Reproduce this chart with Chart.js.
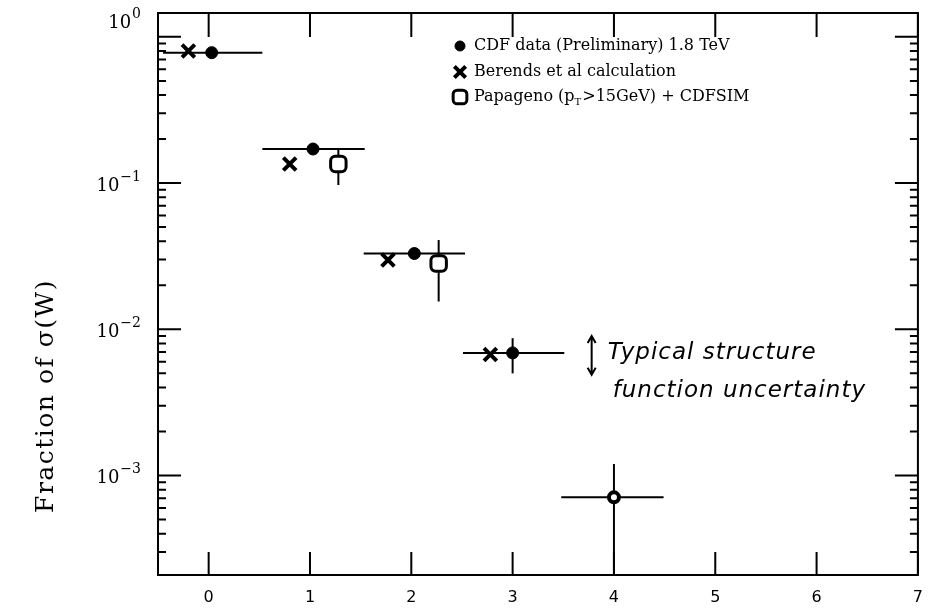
<!DOCTYPE html>
<html>
<head>
<title>W + n jets fraction</title>
<script src="https://cdn.jsdelivr.net/npm/chart.js@4.4.0/dist/chart.umd.min.js"></script>
<style>
  body { margin: 0; background: #fff; }
</style>
</head>
<body>
<canvas id="myChart" width="936" height="608"></canvas>
<script>
// jet multiplicity bins (horizontal bars)
var binLo = [-0.45, 0.53, 1.53, 2.51, 3.48];
var binHi = [0.53, 1.54, 2.53, 3.51, 4.49];

// CDF data (Preliminary) 1.8 TeV
var cdfX = [0.03, 1.03, 2.03, 3.0, 4.0];
var cdfY = [0.78, 0.171, 0.033, 0.0069, 0.00071];
var cdfErrLo = [null, null, null, 0.0050, 0.0001];
var cdfErrHi = [null, null, null, 0.0087, 0.0012];

// Berends et al calculation
var berX = [-0.2, 0.8, 1.77, 2.78];
var berY = [0.80, 0.135, 0.0298, 0.00673];

// Papageno (pT>15GeV) + CDFSIM
var papX = [1.28, 2.27];
var papY = [0.135, 0.0282];
var papErrLo = [0.097, 0.0155];
var papErrHi = [0.174, 0.0408];

// axes
var xTicks = [0, 1, 2, 3, 4, 5, 6, 7];
var yDecades = [0, -1, -2, -3];

// structure function uncertainty arrow (x, low, high)
var sfX = 3.78;
var sfLo = 0.0049;
var sfHi = 0.0090;

function pts(xs, ys) {
  return xs.map(function (v, i) { return { x: v, y: ys[i] }; });
}

function segment(x1, y1, x2, y2) {
  return {
    data: [{ x: x1, y: y1 }, { x: x2, y: y2 }],
    showLine: true,
    borderColor: "#000",
    borderWidth: 2,
    pointRadius: 0,
    fill: false,
  };
}

var markerSets = [
  {
    label: "CDF data (Preliminary) 1.8 TeV",
    data: pts(cdfX, cdfY),
    pointStyle: "circle",
    pointRadius: cdfX.map(function (v, i) { return i == 4 ? 5 : 6; }),
    pointBackgroundColor: cdfX.map(function (v, i) { return i == 4 ? "#fff" : "#000"; }),
    pointBorderColor: "#000",
    pointBorderWidth: cdfX.map(function (v, i) { return i == 4 ? 4 : 1; }),
    legendRadius: 5,
  },
  {
    label: "Berends et al calculation",
    data: pts(berX, berY),
    pointStyle: "crossRot",
    pointRadius: 9,
    pointBorderColor: "#000",
    pointBorderWidth: 4,
    legendRadius: 8,
  },
  {
    label: "Papageno (p_T>15GeV) + CDFSIM",
    data: pts(papX, papY),
    pointStyle: "rectRounded",
    pointRadius: 9,
    pointBackgroundColor: "#fff",
    pointBorderColor: "#000",
    pointBorderWidth: 3,
    legendRadius: 8,
  },
];

// error bar segments, drawn underneath the markers
var barSets = [];
for (var i = 0; i < cdfX.length; i++) {
  barSets.push(segment(binLo[i], cdfY[i], binHi[i], cdfY[i]));
  if (cdfErrLo[i] != null) {
    barSets.push(segment(cdfX[i], cdfErrLo[i], cdfX[i], cdfErrHi[i]));
  }
}
for (var j = 0; j < papX.length; j++) {
  barSets.push(segment(papX[j], papErrLo[j], papX[j], papErrHi[j]));
}

var SERIF = "'DejaVu Serif', serif";

var framePlugin = {
  id: "frame",
  afterDraw: function (chart) {
    var ctx = chart.ctx;
    var a = chart.chartArea;
    var xs = chart.scales.x;
    var ys = chart.scales.y;
    ctx.save();
    ctx.strokeStyle = "#000";
    ctx.fillStyle = "#000";
    ctx.lineWidth = 2;
    ctx.strokeRect(a.left, a.top, a.right - a.left, a.bottom - a.top);

    // inner ticks on x, top and bottom
    ctx.beginPath();
    xTicks.forEach(function (v) {
      var px = xs.getPixelForValue(v);
      ctx.moveTo(px, a.bottom);
      ctx.lineTo(px, a.bottom - 23);
      ctx.moveTo(px, a.top);
      ctx.lineTo(px, a.top + 24);
    });
    // inner ticks on the log axis, left and right
    ys.ticks.forEach(function (t) {
      var v = t.value;
      var e = Math.floor(Math.log10(v) + 1e-9);
      var m = v / Math.pow(10, e);
      var r = Math.round(m);
      if (Math.abs(m - r) > 1e-6 || r < 1 || r > 9) return;
      var py = ys.getPixelForValue(v);
      var len = r == 1 ? 23 : 8;
      ctx.moveTo(a.left, py);
      ctx.lineTo(a.left + len, py);
      ctx.moveTo(a.right, py);
      ctx.lineTo(a.right - len, py);
    });
    ctx.stroke();

    // decade labels with superscript exponents
    ctx.textBaseline = "middle";
    yDecades.forEach(function (e, k) {
      var py = ys.getPixelForValue(Math.pow(10, e));
      if (k == 0) py -= 17;
      var exp = e == 0 ? "0" : "\u2212" + (-e);
      ctx.font = "18px " + SERIF;
      var w10 = ctx.measureText("10").width;
      ctx.font = "14px " + SERIF;
      var wExp = ctx.measureText(exp).width;
      var right = 141;
      ctx.font = "18px " + SERIF;
      ctx.textAlign = "left";
      ctx.fillText("10", right - wExp - w10 - 1, py + 3);
      ctx.font = "14px " + SERIF;
      ctx.fillText(exp, right - wExp, py - 6);
    });

    // y axis title
    ctx.save();
    ctx.translate(46, 396);
    ctx.rotate(-Math.PI / 2);
    ctx.textAlign = "center";
    ctx.font = "25px " + SERIF;
    ctx.letterSpacing = "1.5px";
    ctx.fillText("Fraction of \u03c3(W)", 0, 0);
    ctx.restore();

    // legend
    var lx = 460;
    var ly = [46, 72, 97];
    markerSets.forEach(function (ds, k) {
      ctx.fillStyle = "#000";
      ctx.strokeStyle = "#000";
      ctx.lineWidth = ds.pointStyle == "circle" ? 1 : ds.pointBorderWidth;
      if (ds.pointStyle != "circle") ctx.fillStyle = "#fff";
      Chart.helpers.drawPoint(ctx, {
        pointStyle: ds.pointStyle,
        radius: ds.legendRadius,
        rotation: 0,
        borderWidth: ctx.lineWidth,
      }, lx, ly[k]);
      ctx.fillStyle = "#000";
      ctx.font = "16px " + SERIF;
      ctx.textAlign = "left";
      ctx.textBaseline = "middle";
      if (k == 2) {
        var t1 = "Papageno (p";
        ctx.fillText(t1, lx + 14, ly[k]);
        var wx = lx + 14 + ctx.measureText(t1).width;
        ctx.font = "10px " + SERIF;
        ctx.fillText("T", wx, ly[k] + 5);
        wx += ctx.measureText("T").width + 1;
        ctx.font = "16px " + SERIF;
        ctx.fillText(">15GeV) + CDFSIM", wx, ly[k]);
      } else {
        ctx.fillText(ds.label, lx + 14, ly[k]);
      }
    });

    // structure function uncertainty arrow and note
    var ax = xs.getPixelForValue(sfX);
    var ay1 = ys.getPixelForValue(sfHi);
    var ay2 = ys.getPixelForValue(sfLo);
    ctx.lineWidth = 2;
    ctx.beginPath();
    ctx.moveTo(ax, ay1);
    ctx.lineTo(ax, ay2);
    ctx.moveTo(ax - 4, ay1 + 7);
    ctx.lineTo(ax, ay1);
    ctx.lineTo(ax + 4, ay1 + 7);
    ctx.moveTo(ax - 4, ay2 - 7);
    ctx.lineTo(ax, ay2);
    ctx.lineTo(ax + 4, ay2 - 7);
    ctx.stroke();
    ctx.font = "italic 23px 'DejaVu Sans', sans-serif";
    ctx.letterSpacing = "1px";
    ctx.textAlign = "left";
    ctx.textBaseline = "middle";
    ctx.fillText("Typical structure", ax + 16, (ay1 + ay2) / 2 - 2);
    ctx.fillText("function uncertainty", ax + 21, ay2 + 16);
    ctx.restore();
  },
};

var ctx = document.getElementById("myChart").getContext("2d");
var chart = new Chart(ctx, {
  type: "scatter",
  data: { datasets: markerSets.concat(barSets) },
  options: {
    responsive: false,
    animation: false,
    devicePixelRatio: 1,
    layout: { padding: { top: 7, right: 18, left: 0, bottom: 0 } },
    plugins: { legend: { display: false }, tooltip: { enabled: false } },
    scales: {
      x: {
        type: "linear",
        min: -0.5,
        max: 7,
        afterFit: function (s) { s.height = 33; },
        afterBuildTicks: function (s) {
          s.ticks = xTicks.map(function (v) { return { value: v }; });
        },
        grid: { display: false, drawTicks: false },
        border: { display: false },
        ticks: {
          autoSkip: false,
          maxRotation: 0,
          padding: 13,
          color: "#000",
          font: { family: "'DejaVu Sans', sans-serif", size: 16 },
        },
      },
      y: {
        type: "logarithmic",
        min: 0.000209,
        max: 1.456,
        afterFit: function (s) { s.width = 158; },
        grid: { display: false, drawTicks: false },
        border: { display: false },
        ticks: { display: false, autoSkip: false },
      },
    },
  },
  plugins: [framePlugin],
});
</script>
</body>
</html>
